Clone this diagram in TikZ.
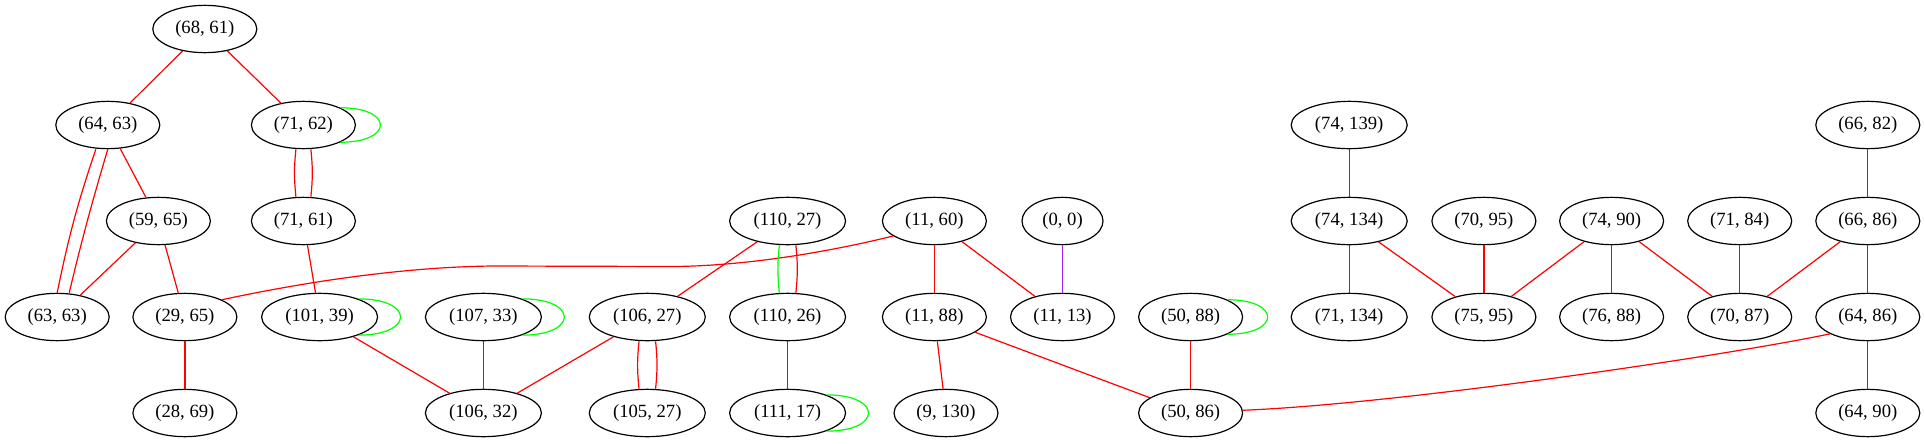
\documentclass[tikz,border=0pt]{standalone}
\usepackage{fontspec}
\setmainfont{Liberation Serif}
\usetikzlibrary{shapes.geometric}
\definecolor{gvred}{RGB}{255,0,0}
\definecolor{gvgreen}{RGB}{0,255,0}
\definecolor{gvpurple}{RGB}{160,32,240}
\tikzset{
  nd/.style={ellipse, draw=black, line width=0.9pt, minimum width=78pt, minimum height=35.5pt, inner sep=0pt, font=\fontsize{14pt}{16pt}\selectfont},
  wd/.style={nd, minimum width=87pt},
  nw/.style={nd, minimum width=60.75pt},
  re/.style={draw=gvred, line width=0.9pt},
  gr/.style={draw=gvgreen, line width=0.9pt},
  pu/.style={draw=gvpurple, line width=0.9pt},
}
\begin{document}
\begin{tikzpicture}[x=0.75pt, y=-0.75pt]
\useasboundingbox (0,0) rectangle (1925,443);
% row 1
\node[nd] (n6861) at (204.8,29) {(68, 61)};
% row 2
\node[nd] (n6463) at (107.8,125) {(64, 63)};
\node[nd] (n7162) at (303.4,125) {(71, 62)};
\node[wd] (n74139) at (1349.2,125) {(74, 139)};
\node[nd] (n6682) at (1867.8,125) {(66, 82)};
% row 3
\node[nd] (n5965) at (158.4,221) {(59, 65)};
\node[nd] (n7161) at (303.4,221) {(71, 61)};
\node[wd] (n11027) at (787.6,221) {(110, 27)};
\node[nd] (n1160) at (934.4,221) {(11, 60)};
\node[nw] (n00) at (1062.5,221) {(0, 0)};
\node[wd] (n74134) at (1349.2,221) {(74, 134)};
\node[nd] (n7095) at (1483.9,221) {(70, 95)};
\node[nd] (n7490) at (1611.6,221) {(74, 90)};
\node[nd] (n7184) at (1739.7,221) {(71, 84)};
\node[nd] (n6686) at (1867.8,221) {(66, 86)};
% row 4
\node[nd] (n6363) at (57.2,317) {(63, 63)};
\node[nd] (n2965) at (184.9,317) {(29, 65)};
\node[wd] (n10139) at (319.6,317) {(101, 39)};
\node[wd] (n10733) at (483.4,317) {(107, 33)};
\node[wd] (n10627) at (647.3,317) {(106, 27)};
\node[wd] (n11026) at (787.6,317) {(110, 26)};
\node[nd] (n1188) at (934.4,317) {(11, 88)};
\node[nd] (n1113) at (1062.5,317) {(11, 13)};
\node[nd] (n5088) at (1190.6,317) {(50, 88)};
\node[wd] (n71134) at (1349.2,317) {(71, 134)};
\node[nd] (n7595) at (1483.9,317) {(75, 95)};
\node[nd] (n7688) at (1611.6,317) {(76, 88)};
\node[nd] (n7087) at (1739.7,317) {(70, 87)};
\node[nd] (n6486) at (1867.8,317) {(64, 86)};
% row 5
\node[nd] (n2869) at (184.9,413) {(28, 69)};
\node[wd] (n10632) at (483.4,413) {(106, 32)};
\node[wd] (n10527) at (647.3,413) {(105, 27)};
\node[wd] (n11117) at (787.6,413) {(111, 17)};
\node[nd] (n9130) at (946,413) {(9, 130)};
\node[nd] (n5086) at (1190.6,413) {(50, 86)};
\node[nd] (n6490) at (1867.8,413) {(64, 90)};

% edges: left part
\draw[re] (n6861) -- (n6463);
\draw[re] (n6861) -- (n7162);
\draw[gr] (n7162.25) .. controls +(40pt,0pt) and +(40pt,0pt) .. (n7162.-25);
\draw[re] ([xshift=-5.6pt]n7162.south) to[bend right=6] ([xshift=-5.6pt]n7161.north);
\draw[re] ([xshift=5.6pt]n7162.south) to[bend left=6] ([xshift=5.6pt]n7161.north);
\draw[re] ([xshift=-9pt]n6463.south) to[bend right=3.5] (n6363.north);
\draw[re] (n6463.south) to[bend right=1.5] ([xshift=9pt]n6363.north);
\draw[re] (n6463) -- (n5965);
\draw[re] (n5965) -- (n6363);
\draw[re] (n5965) -- (n2965);
\draw[re] (n2965) -- (n2869);
\draw[re] (n1160.200) .. controls (820,254) and (740,266) .. (673,266.5) -- (493,266) .. controls (400,267) and (300,283) .. (n2965.25);
\draw[re] (n7161) -- (n10139);
\draw[gr] (n10139.25) .. controls +(42pt,0pt) and +(42pt,0pt) .. (n10139.-25);
\draw[re] (n10139) -- (n10632);
\draw[gr] (n10733.25) .. controls +(42pt,0pt) and +(42pt,0pt) .. (n10733.-25);
\draw[re] (n10733) -- (n10632);
\draw[re] (n10627) -- (n10632);
\draw[re] ([xshift=-6.2pt]n10627.south) to[bend right=6] ([xshift=-6.2pt]n10527.north);
\draw[re] ([xshift=6.2pt]n10627.south) to[bend left=6] ([xshift=6.2pt]n10527.north);
\draw[re] (n11027) -- (n10627);
\draw[gr] ([xshift=-6.2pt]n11027.south) to[bend right=6] ([xshift=-6.2pt]n11026.north);
\draw[re] ([xshift=6.2pt]n11027.south) to[bend left=6] ([xshift=6.2pt]n11026.north);
\draw[re] (n11026) -- (n11117);
\draw[gr] (n11117.25) .. controls +(42pt,0pt) and +(42pt,0pt) .. (n11117.-25);
% middle
\draw[re] (n1160) -- (n1188);
\draw[re] (n1160) -- (n1113);
\draw[pu] (n00) -- (n1113);
\draw[re] (n1188) -- (n9130);
\draw[re] (n1188) -- (n5086);
\draw[gr] (n5088.25) .. controls +(40pt,0pt) and +(40pt,0pt) .. (n5088.-25);
\draw[re] (n5088) -- (n5086);
\draw[re] (n6486.204) .. controls (1730,355) and (1400,404) .. (n5086.3);
% right part
\draw[re] (n74139) -- (n74134);
\draw[re] (n74134) -- (n71134);
\draw[re] (n74134) -- (n7595);
\draw[re] (n7095) -- (n7595);
\draw[re] (n7490) -- (n7595);
\draw[re] (n7490) -- (n7688);
\draw[re] (n7490) -- (n7087);
\draw[re] (n7184) -- (n7087);
\draw[re] (n6686) -- (n7087);
\draw[re] (n6682) -- (n6686);
\draw[re] (n6686) -- (n6486);
\draw[re] (n6486) -- (n6490);
\end{tikzpicture}
\end{document}
